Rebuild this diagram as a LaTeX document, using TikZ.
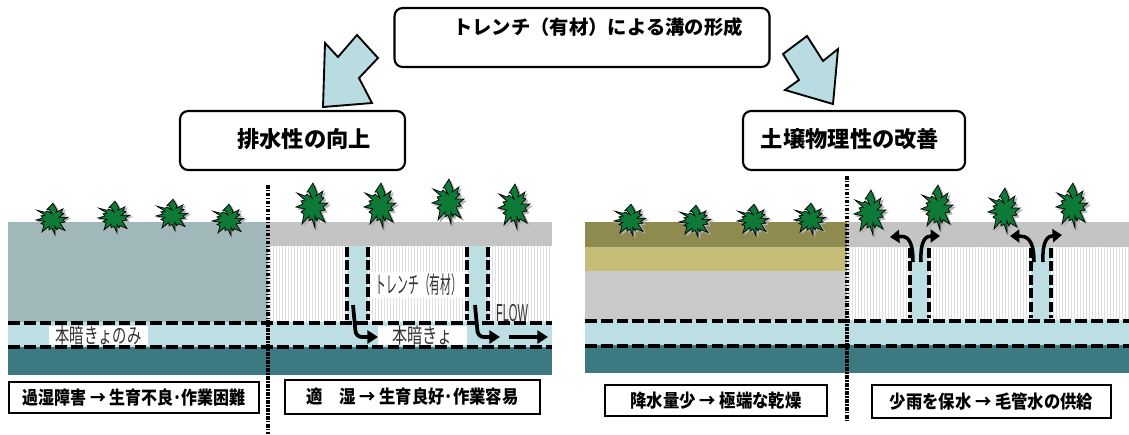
\documentclass[tikz,border=0pt]{standalone}
\usepackage{fontspec}
\usepackage{graphicx}
\setmainfont{Liberation Sans}
\newfontfamily\jpfont{Noto Sans CJK JP}
\usetikzlibrary{arrows.meta}

\definecolor{wetsoil}{HTML}{A1B8BB}
\definecolor{plowgray}{HTML}{C4C4C4}
\definecolor{drainblue}{HTML}{BDDEE3}
\definecolor{subsoil}{HTML}{3D7981}
\definecolor{drysoil}{HTML}{8F8B50}
\definecolor{drysand}{HTML}{C3BD78}
\definecolor{claygray}{HTML}{C9C9C9}
\definecolor{leafgreen}{HTML}{0E7A38}
\definecolor{flowblue}{HTML}{B8DCE1}

\tikzset{
  headbox/.style={draw, line width=1.8pt, rounded corners=7pt, fill=white},
  headtext/.style={font=\jpfont\bfseries\fontsize{19}{21}\selectfont},
  notebox/.style={draw, line width=1.6pt, fill=white, inner sep=0pt,
    font=\jpfont\bfseries\fontsize{15.5}{17}\selectfont},
  soiltext/.style={fill=white, inner sep=0pt, text=black!80,
    font=\jpfont\fontsize{18}{19}\selectfont},
  drainline/.style={line width=3.6pt, dash pattern=on 10pt off 3.5pt},
  trenchline/.style={line width=3.2pt, dash pattern=on 8.5pt off 3pt},
  divider/.style={line width=2.8pt, dash pattern=on 3pt off 1.3pt on 1.2pt off 1.3pt},
  flow/.style={line width=3.2pt, -{Triangle[length=9pt,width=11pt]}},
  rise/.style={line width=3pt, -{Triangle[length=8pt,width=11pt]}},
  stripe/.style={gray!25, line width=0.25pt},
  bigarrow/.style={fill=flowblue, draw, line width=1.6pt, line join=miter},
  plant/.pic={
    \foreach \dx/\col/\edge in {2/gray!60/gray!60, 0/leafgreen/black}
      \filldraw[fill=\col, draw=\edge, line width=0.6pt, shift={(\dx,\dx)}]
        (0,-9) -- (-3,-15) -- (-5,-15) -- (1,-24) -- (5,-14) -- (4,-11) -- (11,-16)
        -- (9,-10) -- (12,-9) -- (7,-4) -- (16,-4) -- (11,0) -- (13,3) -- (8,4)
        -- (13,15) -- (6,11) -- (5,14) -- (3,9) -- (3,21) -- (0,12) -- (-3,14)
        -- (-3,9) -- (-10,17) -- (-8,7) -- (-11,5) -- (-7,2) -- (-16,0) -- (-9,-3)
        -- (-11,-6) -- (-7,-7) -- (-15,-14) -- (-7,-11) -- (-5,-13) -- cycle;
  }
}

\begin{document}
\begin{tikzpicture}[x=0.03cm, y=-0.03cm]
  \useasboundingbox (0,0) rectangle (1129,434);

  % headings
  \node[headbox, minimum width=11.25cm, minimum height=1.77cm] (trench) at (582,37.5) {};
  \node[font=\jpfont\bfseries\fontsize{16.5}{18}\selectfont] (trenchtxt) at (598,27) {トレンチ（有材）による溝の形成};
  \node[headbox, minimum width=6.75cm, minimum height=1.77cm] (drain) at (292.5,140.5) {};
  \node[headtext] (draintxt) at (304,139) {排水性の向上};
  \node[headbox, minimum width=6.66cm, minimum height=1.77cm] (soil) at (854,140.5) {};
  \node[headtext] (soiltxt) at (850,139) {土壌物理性の改善};

  % block arrows
  \draw[bigarrow] (325,43) -- (338,57) -- (357,35) -- (378,58) -- (359,78)
    -- (372,103) -- (323,107) -- cycle;
  \draw[bigarrow] (807,36) -- (823,61) -- (838,49) -- (833,104) -- (785,90)
    -- (799,80) -- (783,54) -- cycle;

  % ---- drainage: left = pipe drain only, right = with trench
  \fill[wetsoil] (8,222) rectangle (268,322);
  \fill[plowgray] (268,222) rectangle (552,246);
  \foreach \x in {270,273,...,550} \draw[stripe] (\x,246) -- (\x,322);
  \fill[drainblue] (8,322) rectangle (552,347);
  \fill[subsoil] (8,347) rectangle (552,375);
  \fill[drainblue] (347,246) rectangle (368,322);
  \fill[drainblue] (467,246) rectangle (488,347);

  \node[soiltext, minimum width=2.97cm, minimum height=0.57cm] (onlydrain) at (98.5,335.5)
    {\scalebox{.68}[1]{本暗きょのみ}};
  \node[soiltext, minimum width=2.67cm, minimum height=0.57cm] (pipedrain) at (422.5,335.5)
    {\scalebox{.72}[1]{本暗きょ}};
  \node[soiltext, minimum width=2.97cm, minimum height=0.78cm] (trenchlbl) at (419,285)
    {\scalebox{.46}[1]{\fontsize{20}{21}\selectfont トレンチ（有材）}};
  \node[text=black!80, inner sep=0pt, font=\fontsize{21}{22}\selectfont] (flowlbl) at (512,313)
    {\scalebox{.45}[1]{FLOW}};

  \draw[drainline] (8,323) -- (552,323);
  \draw[drainline] (8,347) -- (552,347);
  \foreach \x in {347,368,467,488} \draw[trenchline] (\x,247) -- (\x,320);

  \coordinate (t1) at (353,305);
  \coordinate (t2) at (475,305);
  \draw[flow, rounded corners=5pt] (t1) -- (356,337) -- (378,337);
  \draw[flow, rounded corners=5pt] (t2) -- (478,337) -- (500,337);
  \draw[flow] (509,337) -- (548,337);

  % ---- soil physics: left = dry field, right = with trench
  \fill[drysoil] (585,222) rectangle (847,247);
  \fill[drysand] (585,247) rectangle (847,271);
  \fill[claygray] (585,271) rectangle (847,320);
  \fill[plowgray] (847,222) rectangle (1129,247);
  \foreach \x in {849,852,...,1128} \draw[stripe] (\x,247) -- (\x,320);
  \fill[drainblue] (585,320) rectangle (1129,345);
  \fill[subsoil] (585,345) rectangle (1129,373);
  \fill[drainblue] (910,247) rectangle (929,320);
  \fill[drainblue] (1031,247) rectangle (1051,320);

  \draw[drainline] (585,321) -- (1129,321);
  \draw[drainline] (585,346) -- (1129,346);
  \foreach \x in {910,929,1031,1051} \draw[trenchline] (\x,248) -- (\x,318);

  % capillary rise
  \draw[rise] (913,262) .. controls (913,236) and (905,236) .. (890,237);
  \draw[rise] (921,262) .. controls (920,240) and (926,236) .. (940,236);
  \draw[rise] (1034,262) .. controls (1034,238) and (1026,236) .. (1010,236);
  \draw[rise] (1043,262) .. controls (1042,240) and (1048,236) .. (1062,235);

  % crops
  \foreach \px/\py in {52/220, 114/218, 172/216, 228/221, 630/221, 695/222, 753/221, 810/220}
    \pic[yscale=.7] at (\px,\py) {plant};
  \foreach \px/\py in {312/207, 380/207, 448/203, 514/208, 870/214, 937/209, 1004/212, 1072/207}
    \pic at (\px,\py) {plant};

  % dividers
  \coordinate (dl) at (268,185);
  \coordinate (dr) at (847,176);
  \draw[divider] (dl) -- (268,434);
  \draw[divider] (dr) -- (847,422);

  % results
  \node[notebox, minimum width=7.5cm, minimum height=0.93cm] (wet) at (134,397.5)
    {\scalebox{.88}[1]{過湿障害 → 生育不良･作業困難}};
  \node[notebox, minimum width=7.65cm, minimum height=1.02cm] (moist) at (412.5,397)
    {\scalebox{.9}[1]{適　湿 → 生育良好･作業容易}};
  \node[notebox, minimum width=6.66cm, minimum height=0.93cm] (dry) at (716,400.5)
    {\scalebox{.9}[1]{降水量少 → 極端な乾燥}};
  \node[notebox, minimum width=7.17cm, minimum height=0.99cm] (keep) at (991.5,401.5)
    {\scalebox{.9}[1]{少雨を保水 → 毛管水の供給}};
\end{tikzpicture}
\end{document}
